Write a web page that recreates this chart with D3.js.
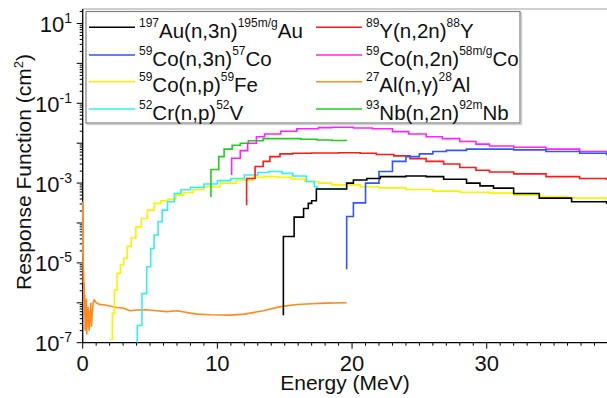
<!DOCTYPE html>
<html>
<head>
<meta charset="utf-8">
<script src="https://cdn.jsdelivr.net/npm/d3@7"></script>
<style>
  body { margin: 0; background: #fff; }
  svg text { font-family: "Liberation Sans", Arial, sans-serif; fill: #111; }
  .series { fill: none; stroke-width: 1.6; }
</style>
</head>
<body>
<div id="chart"></div>
<script>
// energies in MeV, response in cm^2
var auE = [14.9, 14.9, 15.7, 16.4, 16.75, 17.0, 17.35, 19.6, 20.1, 21.1, 22.1, 24.0, 25.5, 26.8, 28.5, 29.5, 30.5, 32.0, 33.9, 36.3, 38.9];
var auV = [4.9e-7, 4.6e-5, 1.4e-4, 2.3e-4, 3.1e-4, 3.6e-4, 7.1e-4, 1.0e-3, 1.2e-3, 1.3e-3, 1.45e-3, 1.5e-3, 1.45e-3, 1.25e-3, 1.0e-3, 8.5e-4, 7.5e-4, 5.5e-4, 4.2e-4, 3.4e-4, 3.0e-4];

var yE = [12.17, 12.17, 12.8, 13.4, 13.9, 14.65, 15.6, 17.0, 19.0, 20.6, 21.8, 23.1, 24.3, 25.5, 26.8, 28.0, 29.2, 30.2, 32.0, 34.4, 36.9, 38.9];
var yV = [2.8e-4, 1.3e-3, 2.6e-3, 3.5e-3, 4.6e-3, 5.4e-3, 5.6e-3, 5.7e-3, 5.75e-3, 5.6e-3, 5.2e-3, 4.8e-3, 4.1e-3, 3.5e-3, 3.0e-3, 2.45e-3, 2.1e-3, 1.9e-3, 1.7e-3, 1.45e-3, 1.3e-3, 1.2e-3];

var co3nE = [19.6, 19.6, 20.1, 21.0, 22.0, 23.0, 24.0, 25.0, 26.0, 27.0, 28.5, 30.0, 32.0, 34.4, 36.9, 38.9];
var co3nV = [6.9e-6, 1.45e-4, 3.2e-4, 1.0e-3, 1.95e-3, 3.5e-3, 4.6e-3, 5.4e-3, 6.2e-3, 6.6e-3, 7.1e-3, 7.1e-3, 6.8e-3, 6.2e-3, 5.6e-3, 4.9e-3];

var co2nE = [11.06, 11.06, 11.7, 12.25, 12.9, 13.5, 14.7, 15.9, 17.5, 18.5, 20.1, 21.5, 23.0, 24.2, 25.5, 26.7, 28.0, 29.2, 30.2, 32.0, 34.4, 36.9, 38.9];
var co2nV = [1.6e-3, 4.2e-3, 6.5e-3, 1.0e-2, 1.45e-2, 1.7e-2, 2.0e-2, 2.3e-2, 2.45e-2, 2.5e-2, 2.4e-2, 2.3e-2, 1.95e-2, 1.7e-2, 1.45e-2, 1.3e-2, 1.1e-2, 9.5e-3, 8.5e-3, 7.9e-3, 7.1e-3, 6.2e-3, 5.8e-3];

var copE = [2.05, 2.2, 2.35, 2.55, 2.8, 3.05, 3.3, 3.6, 3.95, 4.35, 4.8, 5.3, 5.8, 6.3, 6.9, 7.5, 8.2, 9.0, 10.2, 11.4, 12.6, 13.5, 14.5, 15.5, 16.5, 17.5, 18.5, 20.6, 22.0, 24.0, 26.0, 28.0, 30.2, 32.0, 34.0, 36.0, 38.9];
var copV = [1.2e-7, 5.5e-7, 2.1e-6, 5.5e-6, 9e-6, 1.3e-5, 2.6e-5, 4.2e-5, 8e-5, 1.3e-4, 2.1e-4, 3.1e-4, 3.6e-4, 3.9e-4, 5.0e-4, 5.8e-4, 6.8e-4, 8.0e-4, 1.0e-3, 1.2e-3, 1.4e-3, 1.45e-3, 1.4e-3, 1.25e-3, 1.1e-3, 1.0e-3, 9.0e-4, 8.1e-4, 7.6e-4, 6.9e-4, 6.3e-4, 5.9e-4, 5.6e-4, 5.0e-4, 4.6e-4, 4.2e-4, 3.8e-4];

var alE = [0, 0.005, 0.01, 0.02, 0.03, 0.05, 0.07, 0.09, 0.11, 0.13, 0.15, 0.18, 0.21, 0.24, 0.27, 0.30, 0.33, 0.36, 0.40, 0.44, 0.48, 0.52, 0.56, 0.60, 0.65, 0.70, 0.78, 0.85, 1.0, 1.3, 1.6, 2.0, 2.5, 3.0, 3.5, 4.0, 4.75, 5.5, 6.2, 7.0, 8.0, 8.5, 9.5, 10.9, 12.0, 13.4, 14.6, 15.9, 17.0, 18.0, 19.6];
var alV = [3.4e-4, 6.3e-5, 1.6e-5, 1.0e-5, 8.9e-6, 3.2e-6, 6.3e-6, 1.0e-6, 3.2e-6, 5.0e-7, 1.6e-6, 2.0e-7, 1.0e-6, 3.2e-7, 1.26e-6, 1.6e-7, 6.3e-7, 2.5e-7, 7.9e-7, 4.0e-7, 2.0e-7, 6.3e-7, 3.2e-7, 1.0e-6, 2.5e-7, 5.0e-7, 1.0e-6, 1.18e-6, 1.0e-6, 9.0e-7, 8.9e-7, 8.3e-7, 7.6e-7, 7.4e-7, 6.3e-7, 6.6e-7, 6.7e-7, 6.3e-7, 6.0e-7, 6.3e-7, 5.5e-7, 5.2e-7, 5.0e-7, 4.9e-7, 5.2e-7, 6.3e-7, 7.9e-7, 9.1e-7, 9.5e-7, 9.8e-7, 1.0e-6];

var crE = [4.05, 4.05, 4.4, 4.75, 5.05, 5.3, 5.6, 5.9, 6.3, 6.8, 7.3, 8.0, 9.0, 10.0, 11.0, 12.0, 13.0, 13.8, 14.8, 15.6, 16.6, 17.2, 17.4, 19.6];
var crV = [1e-7, 2.7e-7, 1.7e-6, 8e-6, 2.3e-5, 5e-5, 1.07e-4, 2.1e-4, 3.4e-4, 5.5e-4, 6.8e-4, 7.8e-4, 9.5e-4, 1.15e-3, 1.3e-3, 1.6e-3, 1.85e-3, 1.95e-3, 1.75e-3, 1.5e-3, 1.1e-3, 8.1e-4, 7.1e-4, 7.1e-4];

var nbE = [9.52, 9.52, 10.1, 10.5, 11.1, 11.7, 12.3, 13.4, 15.0, 16.2, 17.4, 18.5, 19.6];
var nbV = [4.5e-4, 2.2e-3, 4.6e-3, 7.1e-3, 8.9e-3, 1.0e-2, 1.15e-2, 1.3e-2, 1.3e-2, 1.25e-2, 1.2e-2, 1.17e-2, 1.15e-2];

var xTicks = [0, 10, 20, 30];
var yLabelExp = [1, -1, -3, -5, -7];

var series = [
  {E: auE, V: auV, color: "#000000", step: true, label: [["197", 1], ["Au(n,3n)", 0], ["195m/g", 1], ["Au", 0]]},
  {E: co3nE, V: co3nV, color: "#2f55ff", step: true, label: [["59", 1], ["Co(n,3n)", 0], ["57", 1], ["Co", 0]]},
  {E: copE, V: copV, color: "#f5f500", step: true, label: [["59", 1], ["Co(n,p)", 0], ["59", 1], ["Fe", 0]]},
  {E: crE, V: crV, color: "#33f0f0", step: true, label: [["52", 1], ["Cr(n,p)", 0], ["52", 1], ["V", 0]]},
  {E: yE, V: yV, color: "#ff1a1a", step: true, label: [["89", 1], ["Y(n,2n)", 0], ["88", 1], ["Y", 0]]},
  {E: co2nE, V: co2nV, color: "#ff22ff", step: true, label: [["59", 1], ["Co(n,2n)", 0], ["58m/g", 1], ["Co", 0]]},
  {E: alE, V: alV, color: "#ff8a1f", step: false, label: [["27", 1], ["Al(n,\u03b3)", 0], ["28", 1], ["Al", 0]]},
  {E: nbE, V: nbV, color: "#22cc22", step: true, label: [["93", 1], ["Nb(n,2n)", 0], ["92m", 1], ["Nb", 0]]}
];

var width = 607, height = 398;
var plotL = 82.7, plotR = 607, plotT = 9, plotB = 342.7;

var svg = d3.select("#chart").append("svg")
    .attr("width", width).attr("height", height);

var x = d3.scaleLinear().domain([0, 38.93]).range([plotL, plotR]);
var y = d3.scaleLog().domain([1e-7, Math.pow(10, 1.363)]).range([plotB, plotT]);

svg.append("clipPath").attr("id", "plotclip")
  .append("rect").attr("x", plotL - 2).attr("y", plotT).attr("width", plotR - plotL + 2).attr("height", plotB - plotT);

// top frame
svg.append("line").attr("x1", plotL).attr("x2", plotR).attr("y1", plotT).attr("y2", plotT)
  .attr("stroke", "#a0a0a0").attr("stroke-width", 1.2);

// x axis
var xminor = d3.range(0, 39, 1);
var xg = svg.append("g");
xg.append("line").attr("x1", plotL).attr("x2", plotR).attr("y1", plotB).attr("y2", plotB)
  .attr("stroke", "#000").attr("stroke-width", 1.3);
xg.selectAll("line.minor").data(xminor).enter().append("line")
  .attr("x1", x).attr("x2", x)
  .attr("y1", plotB).attr("y2", function(d) { return d % 10 == 0 ? plotB + 6 : plotB + 3; })
  .attr("stroke", "#000").attr("stroke-width", 1);
xg.selectAll("text").data(xTicks).enter().append("text")
  .attr("x", x).attr("y", 370.5)
  .attr("text-anchor", "middle")
  .style("font-size", "22px")
  .text(function(d) { return d; });

// y axis
var yg = svg.append("g");
yg.append("line").attr("x1", plotL).attr("x2", plotL).attr("y1", plotT).attr("y2", plotB)
  .attr("stroke", "#000").attr("stroke-width", 1.3);
var yminor = [];
for (var e = -7; e <= 1; e++) {
  for (var m = 1; m <= 9; m++) {
    var v = m * Math.pow(10, e);
    if (v <= y.domain()[1]) yminor.push({v: v, major: m == 1});
  }
}
yg.selectAll("line.tick").data(yminor).enter().append("line")
  .attr("x1", function(d) { return d.major ? plotL - 6 : plotL - 3; }).attr("x2", plotL)
  .attr("y1", function(d) { return y(d.v); }).attr("y2", function(d) { return y(d.v); })
  .attr("stroke", "#000").attr("stroke-width", 1);
var ylab = yg.selectAll("text").data(yLabelExp).enter().append("text")
  .attr("x", 72).attr("y", function(d) { return y(Math.pow(10, d)) + 8.5; })
  .attr("text-anchor", "end")
  .style("font-size", "22px");
ylab.append("tspan").text("10");
ylab.append("tspan").attr("dy", -9).style("font-size", "14px").text(function(d) { return d; });

// curves, drawn over the axis lines (orange first so it sits underneath)
var plot = svg.append("g").attr("clip-path", "url(#plotclip)");
var order = [6, 2, 3, 7, 5, 4, 1, 0];
order.forEach(function(i) {
  var s = series[i];
  var pts = s.E.map(function(e, k) { return [e, s.V[k]]; });
  var line = d3.line()
    .x(function(d) { return x(d[0]); })
    .y(function(d) { return y(d[1]); })
    .curve(s.step ? d3.curveStepAfter : d3.curveLinear);
  plot.append("path").attr("class", "series")
    .attr("d", line(pts))
    .attr("stroke", s.color);
});

// axis titles
svg.append("text").attr("x", 345).attr("y", 390)
  .attr("text-anchor", "middle").style("font-size", "21px").text("Energy (MeV)");
var yt = svg.append("text")
  .attr("transform", "translate(31," + 172 + ") rotate(-90)")
  .attr("text-anchor", "middle").style("font-size", "21px");
yt.append("tspan").text("Response Function (cm");
yt.append("tspan").attr("dy", -8).style("font-size", "13px").text("2");
yt.append("tspan").attr("dy", 8).text(")");

// legend
var lg = svg.append("g");
lg.append("rect").attr("x", 87.5).attr("y", 13).attr("width", 434).attr("height", 111.5)
  .attr("fill", "none").attr("stroke", "#d0d0d0").attr("stroke-width", 1.5);
lg.append("rect").attr("x", 86).attr("y", 11.5).attr("width", 434).attr("height", 111.5)
  .attr("fill", "#fff").attr("stroke", "#808080").attr("stroke-width", 1.2);
var rowY = [27.3, 55, 81.7, 109];
var colLine = [89, 316];
series.forEach(function(s, i) {
  var col = Math.floor(i / 4), row = i % 4;
  var ly = rowY[row];
  lg.append("line").attr("x1", colLine[col]).attr("x2", colLine[col] + 46)
    .attr("y1", ly).attr("y2", ly).attr("stroke", s.color).attr("stroke-width", 1.6);
  var t = lg.append("text").attr("x", colLine[col] + 50).attr("y", ly + 10.5)
    .style("font-size", "20.5px");
  var up = false;
  s.label.forEach(function(seg) {
    var sp = t.append("tspan").text(seg[0]);
    if (seg[1] && !up) { sp.attr("dy", -11).style("font-size", "12px"); up = true; }
    else if (!seg[1] && up) { sp.attr("dy", 11); up = false; }
    else if (seg[1]) { sp.style("font-size", "12px"); }
  });
});
</script>
</body>
</html>
